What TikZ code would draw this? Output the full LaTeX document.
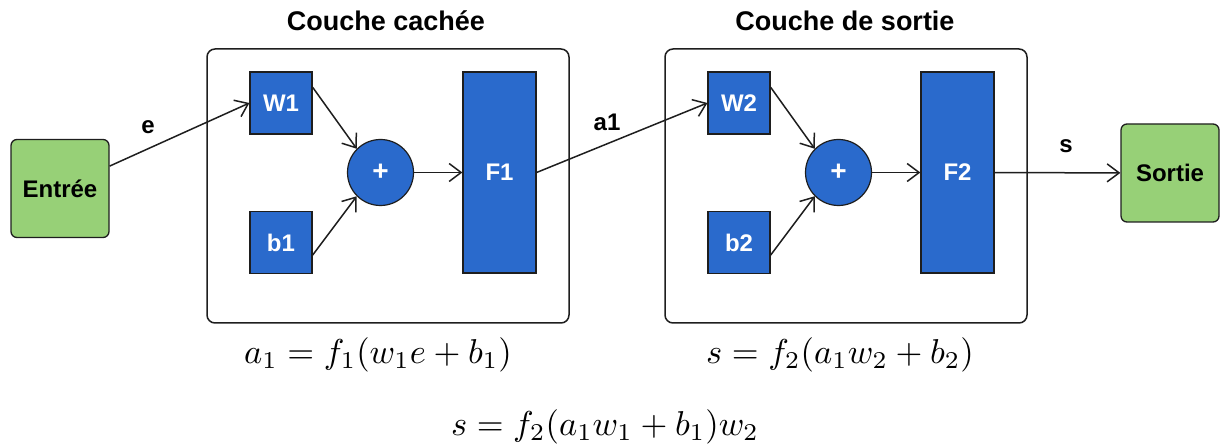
\documentclass[tikz,border=0pt]{standalone}
\usepackage{fontspec}
\setmainfont{Liberation Sans}
\usetikzlibrary{arrows.meta,calc}
\definecolor{nblue}{RGB}{42,106,204}
\definecolor{ngreen}{RGB}{151,208,119}
\definecolor{edge}{RGB}{30,30,30}
\begin{document}
\begin{tikzpicture}[x=1pt,y=-1pt,
  io/.style={draw=edge, fill=ngreen, rounded corners=6pt, minimum width=98pt, minimum height=98pt, line width=1.3pt, font=\fontsize{24}{28}\selectfont\bfseries, inner sep=0pt},
  blk/.style={draw=edge, fill=nblue, text=white, font=\fontsize{24}{28}\selectfont\bfseries, line width=1.2pt, inner sep=0pt},
  sq/.style={blk, minimum width=62pt, minimum height=62pt},
  tall/.style={blk, minimum width=73pt, minimum height=201pt},
  sumc/.style={blk, circle, minimum size=66pt, font=\fontsize{28}{30}\selectfont\bfseries},
  layer/.style={draw=edge, fill=white, rounded corners=8pt, line width=1.5pt, minimum width=362pt, minimum height=274pt},
  conn/.style={draw=edge, line width=1.5pt, -{Straight Barb[length=12pt,width=18pt]}},
  lbl/.style={font=\fontsize{24}{28}\selectfont\bfseries, inner sep=0pt},
  ttl/.style={font=\fontsize{27}{30}\selectfont\bfseries, inner sep=0pt},
  eqn/.style={scale=3.45, inner sep=0pt}
]
\useasboundingbox (0,0) rectangle (1221,446);

% layer containers
\node[layer] (L1) at (388,186) {};
\node[layer] (L2) at (846,186) {};
\node[ttl] (T1) at (386,21) {Couche cachée};
\node[ttl] (T2) at (845,21) {Couche de sortie};

% input / output
\node[io] (entree) at (60,188.5) {Entrée};
\node[io] (sortie) at (1170,173) {Sortie};

% hidden layer
\node[sq] (w1) at (281,103) {W1};
\node[sq] (b1) at (281,242.5) {b1};
\node[sumc] (p1) at (380.5,172.5) {+};
\node[tall] (f1) at (499.5,172.5) {F1};

% output layer
\node[sq] (w2) at (739,103) {W2};
\node[sq] (b2) at (739,242.5) {b2};
\node[sumc] (p2) at (838.5,172.5) {+};
\node[tall] (f2) at (957.5,172.5) {F2};

% connectors
\draw[conn] (entree) -- (w1.west);
\draw[conn] ($(w1.north east)!0.25!(w1.south east)$) -- (p1.135);
\draw[conn] ($(b1.north east)!0.7!(b1.south east)$) -- (p1.225);
\draw[conn] (p1) -- (f1);
\draw[conn] (f1.east) -- (w2.west);
\draw[conn] ($(w2.north east)!0.25!(w2.south east)$) -- (p2.135);
\draw[conn] ($(b2.north east)!0.7!(b2.south east)$) -- (p2.225);
\draw[conn] (p2) -- (f2);
\draw[conn] (f2) -- (sortie);

% connector labels
\node[lbl] (le) at (148,127) {e};
\node[lbl] (la) at (607,122) {a1};
\node[lbl] (ls) at (1066,146) {s};

% equations
\node[eqn] (eq1) at (378,355) {$a_1 = f_1(w_1e+b_1)$};
\node[eqn] (eq2) at (840,355) {$s = f_2(a_1w_2+b_2)$};
\node[eqn] (eq3) at (605,427) {$s = f_2(a_1w_1+b_1)w_2$};
\end{tikzpicture}
\end{document}
